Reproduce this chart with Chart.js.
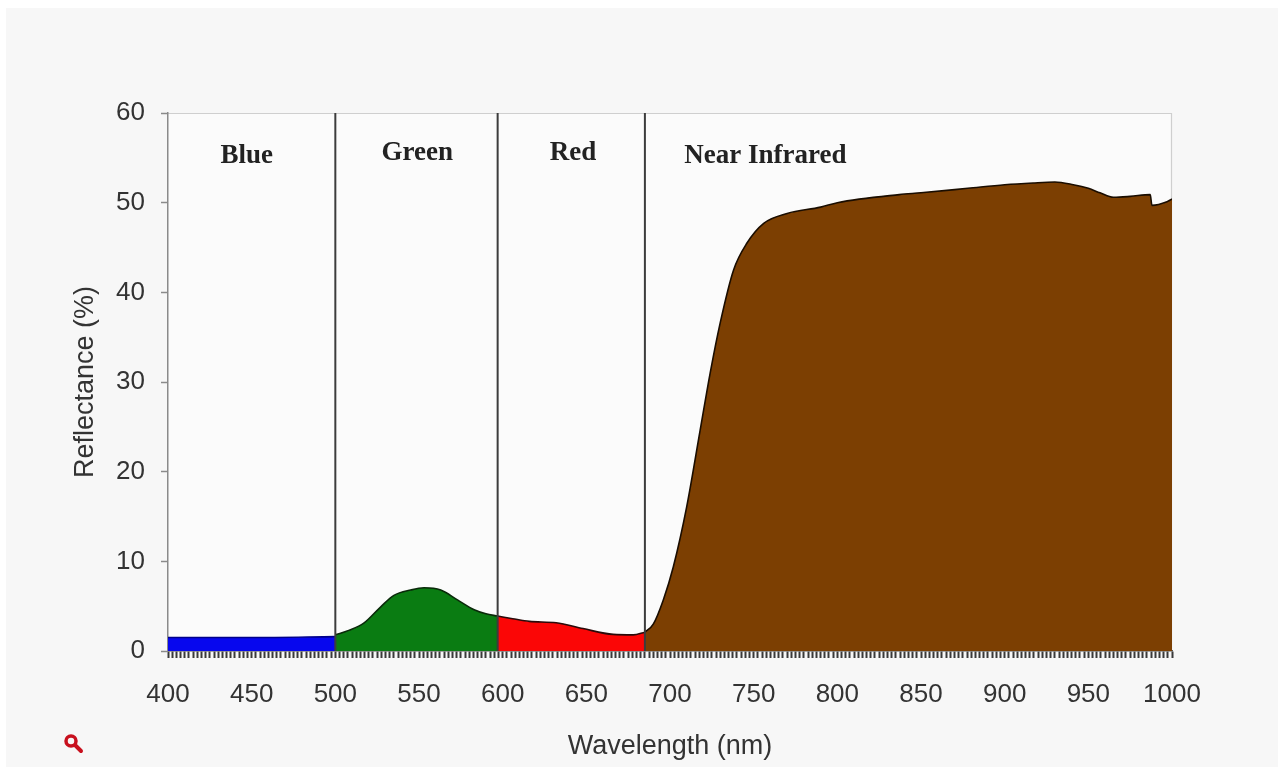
<!DOCTYPE html>
<html>
<head>
<meta charset="utf-8">
<title>Reflectance spectrum</title>
<script src="https://cdn.jsdelivr.net/npm/chart.js@4.4.1/dist/chart.umd.min.js"></script>
<style>
  html, body { margin: 0; padding: 0; background: #ffffff; }
  canvas { display: block; }
</style>
</head>
<body>
<canvas id="chart" width="1282" height="767"></canvas>
<script>
// Wavelength (nm) and reflectance (%) samples for each spectral band
const blueWl  = [400, 450, 500];
const blueR   = [1.5, 1.5, 1.6];

const greenWl = [500, 508, 517, 527, 535, 545, 553, 563, 573, 583, 590, 597];
const greenR  = [1.8, 2.3, 3.1, 4.9, 6.2, 6.8, 7.05, 6.8, 5.7, 4.6, 4.15, 3.9];

const redWl   = [597, 606, 616, 632, 648, 666, 678, 685];
const redR    = [3.9, 3.6, 3.3, 3.15, 2.5, 1.85, 1.8, 2.1];

const nirWl   = [685, 690, 696, 702, 710, 718, 724, 730, 738, 746, 756, 770, 790, 800,
                 837, 850, 878, 900, 917, 930, 941, 950, 957, 965, 975, 987, 988, 997, 1000];
const nirR    = [2.1, 3.0, 5.7, 9.4, 16.1, 24.6, 31.0, 36.6, 42.5, 45.5, 47.7, 48.8, 49.5, 50.0,
                 50.9, 51.1, 51.6, 52.0, 52.2, 52.3, 52.0, 51.6, 51.1, 50.6, 50.7, 50.9, 49.7, 50.1, 50.4];

// Band boundaries (nm) drawn as vertical separators
const bandEdges = [500, 597, 685];

// Band names and where they sit (wavelength, reflectance)
const bandNames  = ['Blue', 'Green', 'Red', 'Near Infrared'];
const bandNameWl = [447, 549, 642, 757];
const bandNameR  = [55.15, 55.5, 55.5, 55.15];

// Axis ticks
const xMin = 400, xMax = 1000, xLabelStep = 50, xMinorStep = 2.5;
const yMin = 0, yMax = 60, yStep = 10;

const toPoints = (xs, ys) => xs.map((x, i) => ({ x, y: ys[i] }));

function area(label, xs, ys, color, edge) {
  return {
    label,
    data: toPoints(xs, ys),
    backgroundColor: color,
    borderColor: edge,
    borderWidth: 1.6,
    fill: 'origin',
    pointRadius: 0,
    cubicInterpolationMode: 'monotone',
    order: 2
  };
}

const separators = bandEdges.map((wl, i) => ({
  label: 'edge' + i,
  data: [{ x: wl, y: yMin }, { x: wl, y: yMax }],
  borderColor: '#3c3c3c',
  borderWidth: 2,
  pointRadius: 0,
  fill: false,
  order: 1
}));

const pagePlugin = {
  id: 'page',
  beforeDraw(chart) {
    const { ctx, chartArea: a } = chart;
    ctx.save();
    ctx.fillStyle = '#ffffff';
    ctx.fillRect(0, 0, chart.width, chart.height);
    ctx.fillStyle = '#f7f7f7';
    ctx.fillRect(6, 8, 1272, chart.height - 8);
    ctx.fillStyle = '#fbfbfb';
    ctx.fillRect(a.left, a.top, a.right - a.left, a.bottom - a.top);
    ctx.strokeStyle = '#cfcfcf';
    ctx.lineWidth = 1.2;
    ctx.beginPath();
    ctx.moveTo(a.left, a.top + 0.5);
    ctx.lineTo(a.right - 0.5, a.top + 0.5);
    ctx.lineTo(a.right - 0.5, a.bottom);
    ctx.stroke();
    ctx.restore();
  },
  afterDraw(chart) {
    const { ctx } = chart;
    // small zoom glyph in the lower-left corner
    ctx.save();
    ctx.strokeStyle = '#c8101e';
    ctx.lineCap = 'round';
    ctx.lineWidth = 3.5;
    ctx.beginPath();
    ctx.arc(71, 741, 5, 0, Math.PI * 2);
    ctx.stroke();
    ctx.lineWidth = 4;
    ctx.beginPath();
    ctx.moveTo(75.5, 745.5);
    ctx.lineTo(81, 751);
    ctx.stroke();
    ctx.restore();
  }
};

const bandLabelPlugin = {
  id: 'bandLabels',
  afterDatasetsDraw(chart) {
    const { ctx, scales: { x, y } } = chart;
    ctx.save();
    ctx.font = 'bold 27px "Liberation Serif", "Times New Roman", serif';
    ctx.fillStyle = '#222222';
    ctx.textAlign = 'center';
    ctx.textBaseline = 'middle';
    bandNames.forEach((name, i) => {
      ctx.fillText(name, x.getPixelForValue(bandNameWl[i]), y.getPixelForValue(bandNameR[i]));
    });
    ctx.restore();
  }
};

new Chart(document.getElementById('chart'), {
  type: 'line',
  data: {
    datasets: [
      ...separators,
      area('Blue', blueWl, blueR, '#0707ee', '#00008a'),
      area('Green', greenWl, greenR, '#0a7c12', '#0a2a0a'),
      area('Red', redWl, redR, '#fb0606', '#2a0a0a'),
      area('Near Infrared', nirWl, nirR, '#7c3f02', '#1a0d00')
    ]
  },
  options: {
    responsive: false,
    devicePixelRatio: 1,
    animation: false,
    layout: { padding: { top: 113, right: 110, left: 0, bottom: 0 } },
    plugins: {
      legend: { display: false },
      tooltip: { enabled: false }
    },
    scales: {
      x: {
        type: 'linear',
        min: xMin,
        max: xMax,
        afterFit(scale) { scale.height = 116; },
        ticks: {
          stepSize: xMinorStep,
          autoSkip: false,
          maxRotation: 0,
          padding: 21,
          color: '#333333',
          font: { family: '"Liberation Sans", Arial, sans-serif', size: 26 },
          callback: v => (v % xLabelStep === 0 ? String(v) : '')
        },
        grid: {
          drawOnChartArea: false,
          drawTicks: true,
          tickLength: 7,
          tickColor: '#3a3a3a',
          tickWidth: 2
        },
        border: { display: true, color: '#555555', width: 1.5 },
        title: {
          display: true,
          text: 'Wavelength (nm)',
          color: '#333333',
          font: { family: '"Liberation Sans", Arial, sans-serif', size: 27 },
          padding: { top: 0, bottom: 4 }
        }
      },
      y: {
        type: 'linear',
        min: yMin,
        max: yMax,
        afterFit(scale) { scale.width = 168; },
        ticks: {
          stepSize: yStep,
          padding: 16,
          color: '#333333',
          font: { family: '"Liberation Sans", Arial, sans-serif', size: 26 }
        },
        grid: {
          drawOnChartArea: false,
          drawTicks: true,
          tickLength: 7,
          tickColor: '#8a8a8a',
          tickWidth: 1.5
        },
        border: { display: true, color: '#8a8a8a', width: 1.5 },
        title: {
          display: true,
          text: 'Reflectance (%)',
          color: '#333333',
          font: { family: '"Liberation Sans", Arial, sans-serif', size: 27 },
          padding: { top: 69, bottom: 0 }
        }
      }
    }
  },
  plugins: [pagePlugin, bandLabelPlugin]
});
</script>
</body>
</html>
